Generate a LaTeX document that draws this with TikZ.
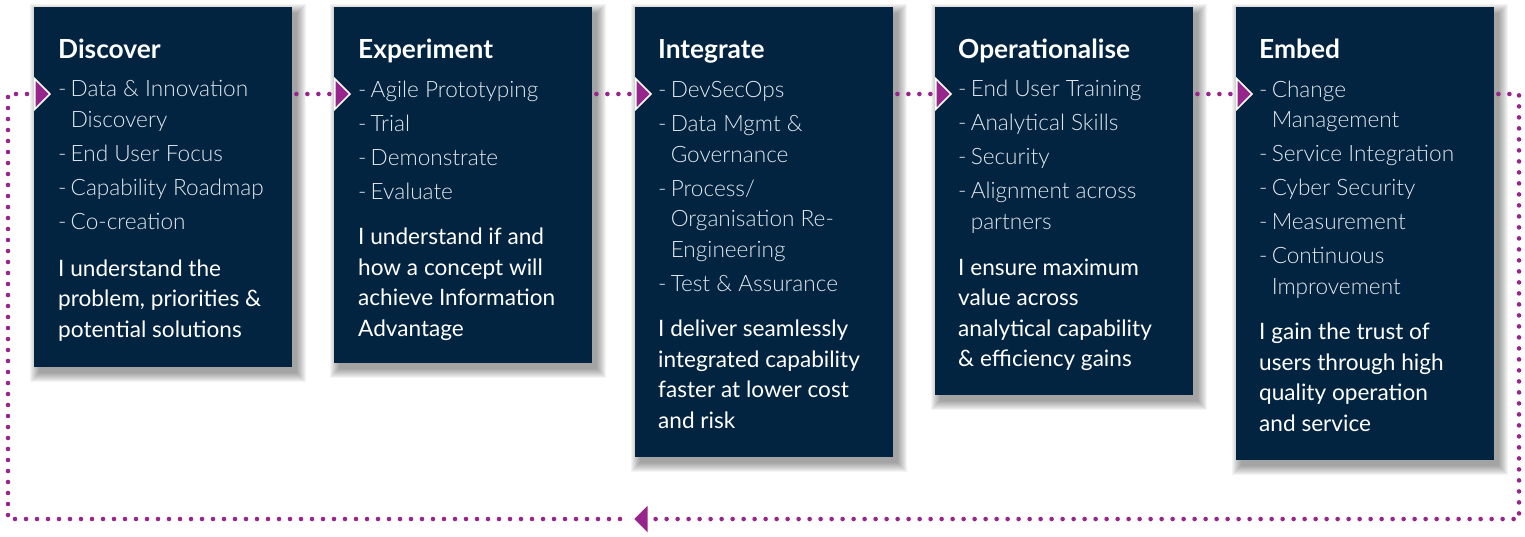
\documentclass[tikz,border=0pt]{standalone}
\usepackage{fontspec}
\setmainfont{Lato}
\newfontfamily\lightfont{Lato Light}
\usetikzlibrary{arrows.meta,backgrounds}
\definecolor{navy}{RGB}{2,36,64}
\definecolor{plum}{RGB}{150,38,140}
\definecolor{lighttext}{RGB}{226,231,237}
\newcommand\dsh{-\hspace{4.2pt}}
\newcommand\ind{\phantom{\dsh}}
\newcommand\castshadow[1]{%
  \foreach \s in {9,8,...,0}{%
    \pgfmathsetmacro\xa{5-\s}\pgfmathsetmacro\ya{\s-6}%
    \pgfmathsetmacro\xb{5+\s}\pgfmathsetmacro\yb{-6-\s}%
    \fill[black,opacity=0.045] ([xshift=\xa pt,yshift=\ya pt]#1.north west) rectangle ([xshift=\xb pt,yshift=\yb pt]#1.south east);
  }}
\begin{document}
\begin{tikzpicture}[x=1pt,y=-1pt,
  stage/.style={fill=navy, draw=none, anchor=north west, minimum width=258pt, inner sep=0pt},
  heading/.style={anchor=base west, inner sep=0pt, text=white, font=\fontsize{26.3}{30}\selectfont\bfseries},
  items/.style={anchor=base west, inner sep=0pt, align=left, text=lighttext, font=\lightfont\fontsize{22.6}{30.5}\selectfont},
  claim/.style={anchor=base west, inner sep=0pt, align=left, text=white, font=\fontsize{22.6}{30.5}\selectfont},
  dots/.style={draw=plum, line width=4.6pt, line cap=round, dash pattern=on 0pt off 11pt},
  tip/.style={-{Triangle[length=17pt,width=34pt,line width=1.5pt,color=white,fill=plum]}}
]
\useasboundingbox (0,0) rectangle (1525,536);
% stages
\node[stage, minimum height=360pt] (b1) at (34,7) {};
\node[stage, minimum height=356pt] (b2) at (334,7) {};
\node[stage, minimum height=450pt] (b3) at (635,7) {};
\node[stage, minimum height=388pt] (b4) at (935,7) {};
\node[stage, minimum height=453pt] (b5) at (1236,7) {};
\begin{scope}[on background layer]
  \castshadow{b1}\castshadow{b2}\castshadow{b3}\castshadow{b4}\castshadow{b5}
\end{scope}
% headings
\node[heading] (h1) at (58,58) {Discover};
\node[heading] (h2) at (358,58) {Experiment};
\node[heading] (h3) at (658,58) {Integrate};
\node[heading] (h4) at (958,58) {Operationalise};
\node[heading] (h5) at (1259,58) {Embed};
% items (anchored at the baseline of their last line)
\node[items] (i1) at (58,229) {\dsh Data \& Innovation\\\ind Discovery\\[3.5pt]\dsh End User Focus\\[3.5pt]\dsh Capability Roadmap\\[3.5pt]\dsh Co-creation};
\node[items] (i2) at (358,199) {\dsh Agile Prototyping\\[3.5pt]\dsh Trial\\[3.5pt]\dsh Demonstrate\\[3.5pt]\dsh Evaluate};
\node[items] (i3) at (658,291) {\dsh DevSecOps\\[3.5pt]\dsh Data Mgmt \&\\\ind Governance\\[3.5pt]\dsh Process/\\\ind Organisation Re-\\\ind Engineering\\[3.5pt]\dsh Test \& Assurance};
\node[items] (i4) at (958,229) {\dsh End User Training\\[3.5pt]\dsh Analytical Skills\\[3.5pt]\dsh Security\\[3.5pt]\dsh Alignment across\\\ind partners};
\node[items] (i5) at (1259,294) {\dsh Change\\\ind Management\\[3.5pt]\dsh Service Integration\\[3.5pt]\dsh Cyber Security\\[3.5pt]\dsh Measurement\\[3.5pt]\dsh Continuous\\\ind Improvement};
% claims (anchored at the baseline of their last line)
\node[claim] (c1) at (58,337) {I understand the\\problem, priorities \&\\potential solutions};
\node[claim] (c2) at (358,336) {I understand if and\\how a concept will\\achieve Information\\Advantage};
\node[claim] (c3) at (658,428) {I deliver seamlessly\\integrated capability\\faster at lower cost\\and risk};
\node[claim] (c4) at (958,366.5) {I ensure maximum\\value across\\analytical capability\\\& efficiency gains};
\node[claim] (c5) at (1259,431) {I gain the trust of\\users through high\\quality operation\\and service};
% connectors
\draw[dots, tip] ([xshift=4pt,yshift=-87pt]b1.north east) -- ([xshift=17pt,yshift=-87pt]b2.north west);
\draw[dots, tip] ([xshift=4pt,yshift=-87pt]b2.north east) -- ([xshift=17pt,yshift=-87pt]b3.north west);
\draw[dots, tip] ([xshift=4pt,yshift=-87pt]b3.north east) -- ([xshift=17pt,yshift=-87pt]b4.north west);
\draw[dots, tip] ([xshift=4pt,yshift=-87pt]b4.north east) -- ([xshift=17pt,yshift=-87pt]b5.north west);
\coordinate (ne) at (1519,94);
\coordinate (se) at (1519,519);
\coordinate (back) at (632,519);
\coordinate (resume) at (620,519);
\coordinate (sw) at (8,519);
\coordinate (nw) at (8,94);
\draw[dots, tip] ([xshift=4pt,yshift=-87pt]b5.north east) -- (ne) -- (se) -- (back);
\draw[dots, tip] (resume) -- (sw) -- (nw) -- ([xshift=17pt,yshift=-87pt]b1.north west);
\end{tikzpicture}
\end{document}
